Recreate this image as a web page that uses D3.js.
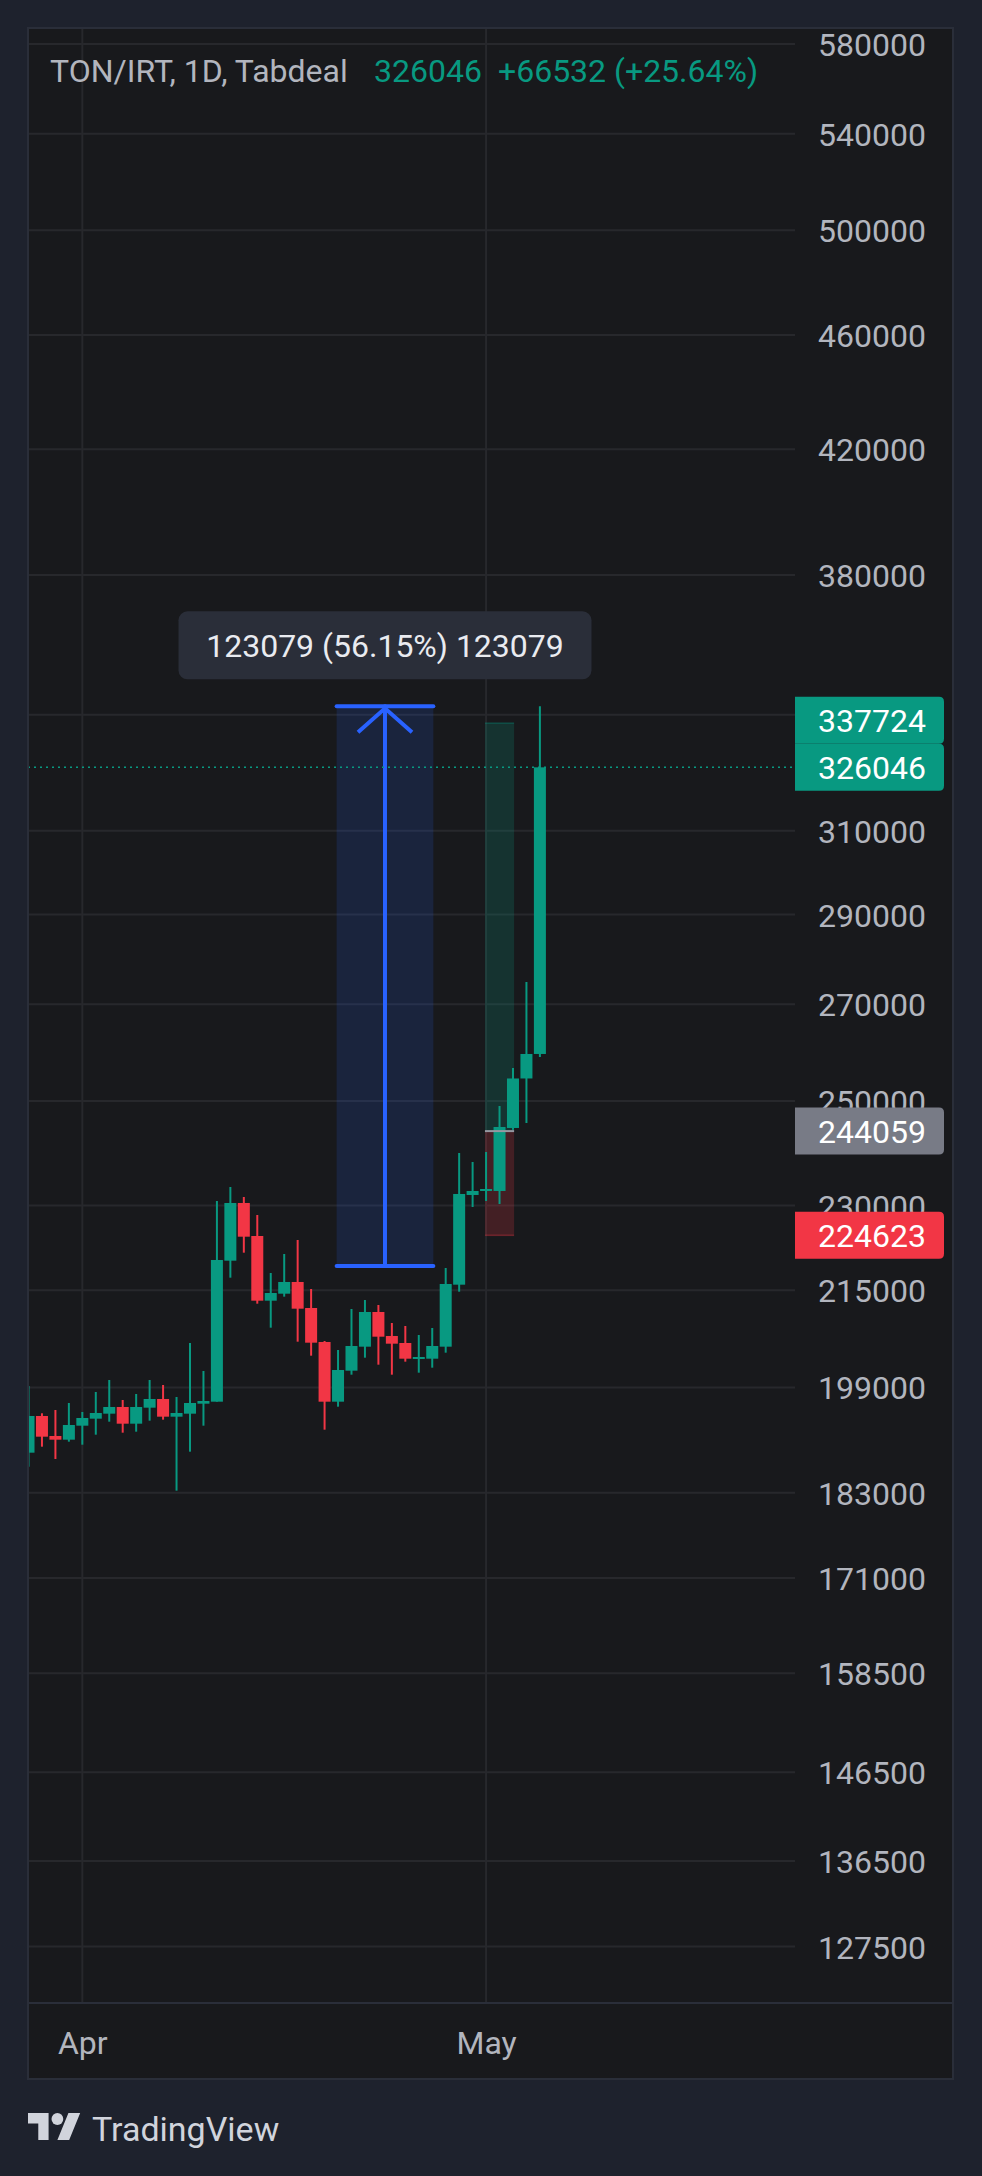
<!DOCTYPE html>
<html><head><meta charset="utf-8">
<script src="https://cdn.jsdelivr.net/npm/d3@7"></script>
<style>
html,body{margin:0;padding:0;background:#1e222d;}
svg{display:block;font-family:Roboto,"Noto Sans",sans-serif;}
</style></head><body>
<svg id="c" width="982" height="2176"></svg>
<script>
// ---------- data ----------
const dates = ["2024-03-28","2024-03-29","2024-03-30","2024-03-31","2024-04-01","2024-04-02","2024-04-03","2024-04-04","2024-04-05","2024-04-06",
  "2024-04-07","2024-04-08","2024-04-09","2024-04-10","2024-04-11","2024-04-12","2024-04-13","2024-04-14","2024-04-15","2024-04-16",
  "2024-04-17","2024-04-18","2024-04-19","2024-04-20","2024-04-21","2024-04-22","2024-04-23","2024-04-24","2024-04-25","2024-04-26",
  "2024-04-27","2024-04-28","2024-04-29","2024-04-30","2024-05-01","2024-05-02","2024-05-03","2024-05-04","2024-05-05"];
const opens  = [188928,194530,191457,190894,193033,194112,194887,195929,193341,195820,
  197181,194422,194887,196445,196757,220133,230483,224504,213233,214425,
  216432,211997,206336,196757,201674,205565,211323,207324,206171,203610,
  203610,205565,215967,231957,232695,232695,244665,254500,259514];
const highs  = [199232,194949,195462,196554,195151,198283,200186,197024,197967,200186,
  199391,197495,206171,201626,230850,233438,231588,228292,217988,221311,
  223791,215229,206500,205025,211829,213352,212504,209481,208981,207489,
  208648,218858,239842,238129,240033,248987,256636,274823,342276];
const lows   = [186834,189833,187983,190590,190135,191655,193649,191961,192114,193803,
  193958,183298,189079,193033,196757,217174,221540,212724,208698,213914,
  206385,204097,192420,195976,201033,203772,202640,201033,203125,201353,
  202157,204585,214767,229751,230850,230300,244300,245640,258900];
const closes = [194530,191350,190894,193141,194221,194995,195929,193341,195929,197181,
  194422,194995,196554,196867,220256,230483,224379,213233,214544,216432,
  211880,206221,196757,201787,205680,211323,207208,206057,203610,203886,
  205680,216088,232142,232695,233066,244859,254500,259514,326046];

const priceTicks = [580000,540000,500000,460000,420000,380000,340000,310000,290000,270000,
  250000,230000,215000,199000,183000,171000,158500,146500,136500,127500];
const hiddenTickLabels = [340000]; // gridline present, label covered by the price tags
const timeTicks = ["2024-04-01","2024-05-01"];
const timeTickLabels = ["Apr","May"];

const symbolText = "TON/IRT, 1D, Tabdeal";
const lastPrice = 326046, prevClose = 259514;

const measureLow = 219197, measureHigh = 342276;
const measureStart = "2024-04-19T21:30:00Z", measureEnd = "2024-04-27T02:00:00Z";

const posEntry = 244059, posStop = 224623, posTarget = 337724;
const posStart = "2024-04-30T22:00:00Z", posEnd = "2024-05-03T02:00:00Z";

// ---------- layout ----------
const W = 982, H = 2176;
const panel = {x0: 28, y0: 28, x1: 953, y1: 2079};
const plot = {x0: 28, x1: 795, y0: 28, y1: 2003};
const UP = "#089981", DOWN = "#f23645", GRID = "#27282c", TXT = "#b2b5be", BLUE = "#2962ff";
const BG = "#18191c";

const svg = d3.select("#c");
const P = d => new Date(d.length > 10 ? d : d + "T00:00:00Z");

const x = d3.scaleUtc().domain([P(dates[0]), P(dates[dates.length-1])]).range([28.5, 539.9]);
const y = d3.scaleLog().domain([580000, 127500]).range([43.9, 1946.6]);

const candles = dates.map((d,i) => ({date: P(d), o: opens[i], h: highs[i], l: lows[i], c: closes[i]}));

svg.append("rect").attr("width", W).attr("height", H).attr("fill", "#1e222d");
svg.append("rect").attr("x", panel.x0).attr("y", panel.y0).attr("width", panel.x1-panel.x0).attr("height", panel.y1-panel.y0).attr("fill", BG);

const defs = svg.append("defs");
defs.append("clipPath").attr("id","plotclip").append("rect")
  .attr("x", plot.x0).attr("y", plot.y0).attr("width", plot.x1-plot.x0).attr("height", plot.y1-plot.y0);

const g = svg.append("g").attr("clip-path","url(#plotclip)");

// grid
g.selectAll("line.hg").data(priceTicks).join("line").attr("class","hg")
  .attr("x1", plot.x0).attr("x2", plot.x1).attr("y1", d=>y(d)).attr("y2", d=>y(d))
  .attr("stroke", GRID).attr("stroke-width", 2);
g.selectAll("line.vg").data(timeTicks).join("line").attr("class","vg")
  .attr("x1", d=>x(P(d))).attr("x2", d=>x(P(d))).attr("y1", plot.y0).attr("y2", plot.y1)
  .attr("stroke", GRID).attr("stroke-width", 2);

// position tool zones
const px0 = x(P(posStart)), px1 = x(P(posEnd));
g.append("rect").attr("x", px0).attr("width", px1-px0).attr("y", y(posTarget)).attr("height", y(posEntry)-y(posTarget))
  .attr("fill", UP).attr("fill-opacity", 0.2);
g.append("rect").attr("x", px0).attr("width", px1-px0).attr("y", y(posEntry)).attr("height", y(posStop)-y(posEntry))
  .attr("fill", DOWN).attr("fill-opacity", 0.2);
g.append("line").attr("x1", px0).attr("x2", px1).attr("y1", y(posStop)).attr("y2", y(posStop)).attr("stroke", DOWN).attr("stroke-opacity",0.35).attr("stroke-width",1.5);
g.append("line").attr("x1", px0).attr("x2", px1).attr("y1", y(posTarget)).attr("y2", y(posTarget)).attr("stroke", UP).attr("stroke-opacity",0.35).attr("stroke-width",1.5);

// measure rect
const mx0 = x(P(measureStart)), mx1 = x(P(measureEnd)), mxc = (mx0+mx1)/2;
g.append("rect").attr("x", mx0).attr("width", mx1-mx0).attr("y", y(measureHigh)).attr("height", y(measureLow)-y(measureHigh))
  .attr("fill", BLUE).attr("fill-opacity", 0.15);

// candles
const bw = 12;
const cg = g.append("g");
cg.selectAll("line.wick").data(candles).join("line").attr("class","wick")
  .attr("x1", d=>x(d.date)).attr("x2", d=>x(d.date)).attr("y1", d=>y(d.h)).attr("y2", d=>y(d.l))
  .attr("stroke", d=>d.c>=d.o?UP:DOWN).attr("stroke-width", 2);
cg.selectAll("rect.body").data(candles).join("rect").attr("class","body")
  .attr("x", d=>x(d.date)-bw/2).attr("width", bw)
  .attr("y", d=>y(Math.max(d.o,d.c)))
  .attr("height", d=>Math.max(2, y(Math.min(d.o,d.c))-y(Math.max(d.o,d.c))))
  .attr("fill", d=>d.c>=d.o?UP:DOWN);

// entry line
g.append("line").attr("x1", px0).attr("x2", px1).attr("y1", y(posEntry)).attr("y2", y(posEntry))
  .attr("stroke", "#9598a1").attr("stroke-width", 2);

// measure lines
const mg = g.append("g").attr("stroke", BLUE).attr("stroke-width", 4).attr("fill","none").attr("stroke-linecap","round");
mg.append("line").attr("x1", mx0).attr("x2", mx1).attr("y1", y(measureHigh)).attr("y2", y(measureHigh));
mg.append("line").attr("x1", mx0).attr("x2", mx1).attr("y1", y(measureLow)).attr("y2", y(measureLow));
mg.append("line").attr("x1", mxc).attr("x2", mxc).attr("y1", y(measureHigh)).attr("y2", y(measureLow));
mg.append("path").attr("d", `M${mxc-27},${y(measureHigh)+26}L${mxc},${y(measureHigh)+2}L${mxc+27},${y(measureHigh)+26}`).attr("stroke-linecap","butt");

// measure label
const diff = measureHigh - measureLow;
const pct = (diff / measureLow * 100).toFixed(2);
const lblText = `${diff} (${pct}%) ${diff}`;
const lblW = 413, lblH = 68, lblY = y(measureHigh) - 27 - lblH;
svg.append("rect").attr("x", mxc - lblW/2).attr("y", lblY).attr("width", lblW).attr("height", lblH).attr("rx", 9)
  .attr("fill", "#2a2e39");
svg.append("text").attr("x", mxc).attr("y", lblY + lblH/2).attr("dy","0.36em").attr("text-anchor","middle")
  .attr("fill","#e9ebf0").attr("font-size", 32).text(lblText);

// current price dotted line
g.append("line").attr("x1", plot.x0).attr("x2", plot.x1).attr("y1", y(lastPrice)).attr("y2", y(lastPrice))
  .attr("stroke", UP).attr("stroke-width", 1.5).attr("stroke-dasharray","2,4");

// header legend
const hdr = svg.append("text").attr("y", 82).attr("font-size", 32);
hdr.append("tspan").attr("x", 50).attr("fill", TXT).text(symbolText);
hdr.append("tspan").attr("x", 374).attr("fill", UP).text(String(lastPrice));
const ch = lastPrice - prevClose;
hdr.append("tspan").attr("x", 498).attr("fill", UP).text(`+${ch} (+${(ch/prevClose*100).toFixed(2)}%)`);

// price axis
const yAxis = d3.axisRight(y).tickValues(priceTicks).tickSize(0).tickPadding(0)
  .tickFormat(d => hiddenTickLabels.includes(d) ? "" : String(d));
const ax = svg.append("g").attr("transform", `translate(${plot.x1},0)`).call(yAxis);
ax.select(".domain").remove();
ax.selectAll("text").attr("x", 131).attr("text-anchor","end").attr("fill", TXT).attr("font-size", 32)
  .attr("font-family","Roboto,'Noto Sans',sans-serif").attr("dy","0.36em");

// price tags
const tagH = 47, tagX0 = plot.x1, tagX1 = 944, r = 5;
function tagPath(top){
  return `M${tagX0},${top}H${tagX1-r}Q${tagX1},${top} ${tagX1},${top+r}V${top+tagH-r}Q${tagX1},${top+tagH} ${tagX1-r},${top+tagH}H${tagX0}Z`;
}
const tags = [
  {v: posTarget, fill: UP},
  {v: lastPrice, fill: UP},
  {v: posEntry, fill: "#787b86"},
  {v: posStop, fill: DOWN}
];
tags.forEach(t => t.top = y(t.v) - tagH/2);
for (let i = tags.length-2; i >= 0; i--) {
  if (tags[i].top + tagH > tags[i+1].top) tags[i].top = tags[i+1].top - tagH;
}
const tg = svg.append("g");
tags.forEach(t => {
  tg.append("path").attr("d", tagPath(t.top)).attr("fill", t.fill);
  tg.append("text").attr("x", 926).attr("y", t.top + tagH/2).attr("dy","0.36em").attr("text-anchor","end")
    .attr("fill", "#ffffff").attr("font-size", 32).text(String(t.v));
});

// time axis
const xAxis = d3.axisBottom(x).tickValues(timeTicks.map(P)).tickSize(0).tickFormat((d,i)=>timeTickLabels[i]);
const xa = svg.append("g").attr("transform", `translate(0,${plot.y1})`).call(xAxis);
xa.select(".domain").remove();
xa.selectAll("text").attr("y", 51).attr("dy", 0).attr("fill", TXT).attr("font-size", 32)
  .attr("font-family","Roboto,'Noto Sans',sans-serif");

// separators & border
svg.append("line").attr("x1", panel.x0).attr("x2", panel.x1).attr("y1", plot.y1).attr("y2", plot.y1).attr("stroke", "#2a2e39").attr("stroke-width", 2);
svg.append("rect").attr("x", panel.x0).attr("y", panel.y0).attr("width", panel.x1-panel.x0).attr("height", panel.y1-panel.y0)
  .attr("fill","none").attr("stroke", "#2a2e39").attr("stroke-width", 2);

// TradingView logo
const logo = svg.append("g").attr("fill", "#d1d4dc");
logo.append("path").attr("transform","translate(28,2113) scale(1.47,1.5) translate(0,-4)")
  .attr("d","M14 22H7V11H0V4h14v18zM28 22h-8l7.5-18h8L28 22z");
logo.append("ellipse").attr("cx", 28+20*1.47).attr("cy", 2113+4*1.5).attr("rx", 4*1.47).attr("ry", 4*1.5);
svg.append("text").attr("x", 92).attr("y", 2141).attr("font-size", 34).attr("fill","#d1d4dc").text("TradingView");
</script>
</body></html>
